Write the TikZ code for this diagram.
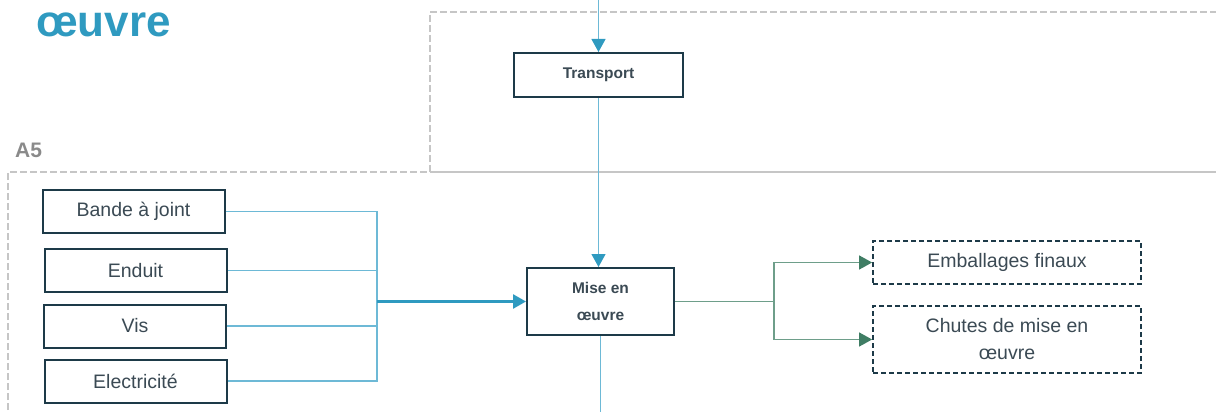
\documentclass[tikz,border=0pt]{standalone}
\usepackage{fontspec}
\setmainfont{Liberation Sans}
\usetikzlibrary{arrows.meta}
\definecolor{teal1}{HTML}{2F9AC0}
\definecolor{teall}{HTML}{6DB9D6}
\definecolor{boxc}{HTML}{1D3A48}
\definecolor{txtc}{HTML}{3B4A54}
\definecolor{grn}{HTML}{3F7D64}
\definecolor{grnl}{HTML}{6E9E8A}
\definecolor{grayd}{HTML}{C6C6C6}
\definecolor{a5c}{HTML}{8A8A8A}
\tikzset{
  inbox/.style={draw=boxc, line width=2pt, fill=white, minimum width=182pt, minimum height=43pt, inner sep=0pt, text=txtc, font=\fontsize{19.5}{22}\selectfont},
  procbox/.style={draw=boxc, line width=2pt, fill=white, inner sep=0pt, text=txtc, font=\fontsize{15.5}{27}\selectfont\bfseries, align=center},
  outbox/.style={draw=boxc, line width=1.8pt, dash pattern=on 5pt off 3pt, fill=white, minimum width=268pt, inner sep=0pt, text=txtc, font=\fontsize{19.5}{27}\selectfont, align=center},
  tline/.style={draw=teall, line width=1.2pt},
  tarrow/.style={draw=teall, line width=1.2pt, -{Triangle[length=13pt,width=14pt,fill=teal1,color=teal1]}},
  garrow/.style={draw=grnl, line width=1.4pt, -{Triangle[length=13pt,width=14pt,fill=grn,color=grn]}},
  zone/.style={draw=grayd, line width=2pt, dash pattern=on 7pt off 3pt},
}
\begin{document}
\begin{tikzpicture}[x=1pt,y=-1pt]
\useasboundingbox (0,0) rectangle (1216,412);
% zones
\draw[zone] (430,172) -- (430,12) -- (1220,12);
\draw[draw=grayd, line width=2pt] (430,172) -- (1220,172);
\draw[zone] (8,420) -- (8,172) -- (430,172);
% titles
\node[anchor=base west, inner sep=0pt, text=teal1, font=\fontsize{44}{44}\selectfont\bfseries] (title) at (36,37) {œuvre};
\node[anchor=base west, inner sep=0pt, text=a5c, font=\fontsize{21}{21}\selectfont\bfseries] (a5) at (15,157) {A5};
% nodes
\node[procbox, minimum width=169pt, minimum height=44pt] (transport) at (598.5,75) {Transport};
\node[procbox, minimum width=147pt, minimum height=67pt] (mise) at (600.5,301.5) {Mise en\\œuvre};
\node[inbox] (bande) at (133.5,211.5) {Bande à joint};
\node[inbox] (enduit) at (135.5,270.5) {Enduit};
\node[inbox] (vis) at (135,326) {Vis};
\node[inbox] (elec) at (135.5,381) {Electricité};
\node[outbox, minimum height=43pt] (emb) at (1007,262.5) {Emballages finaux};
\node[outbox, minimum height=67pt] (chutes) at (1007,339.5) {Chutes de mise en\\œuvre};
% coordinates
\coordinate (topin) at (598.5,0);
\coordinate (botout) at (600.5,412);
\coordinate (jx) at (377,301.5);
\coordinate (gx) at (774,301.5);
% connectors
\draw[tarrow] (topin) -- (transport.north);
\draw[tarrow] (transport.south) -- (transport.south |- mise.north);
\draw[tline] (mise.south) -- (botout);
\draw[tline] (bande.east) -| (jx);
\draw[tline] (enduit.east) -| (jx);
\draw[tline] (vis.east) -| (jx);
\draw[tline] (elec.east) -| (jx);
\draw[draw=teal1, line width=2.5pt, -{Triangle[length=13pt,width=14pt,fill=teal1,color=teal1]}] (jx) -- (mise.west);
\draw[draw=grnl, line width=1.4pt] (mise.east) -- (gx);
\draw[garrow] (gx) |- (emb.west);
\draw[garrow] (gx) |- (chutes.west);
\end{tikzpicture}
\end{document}
